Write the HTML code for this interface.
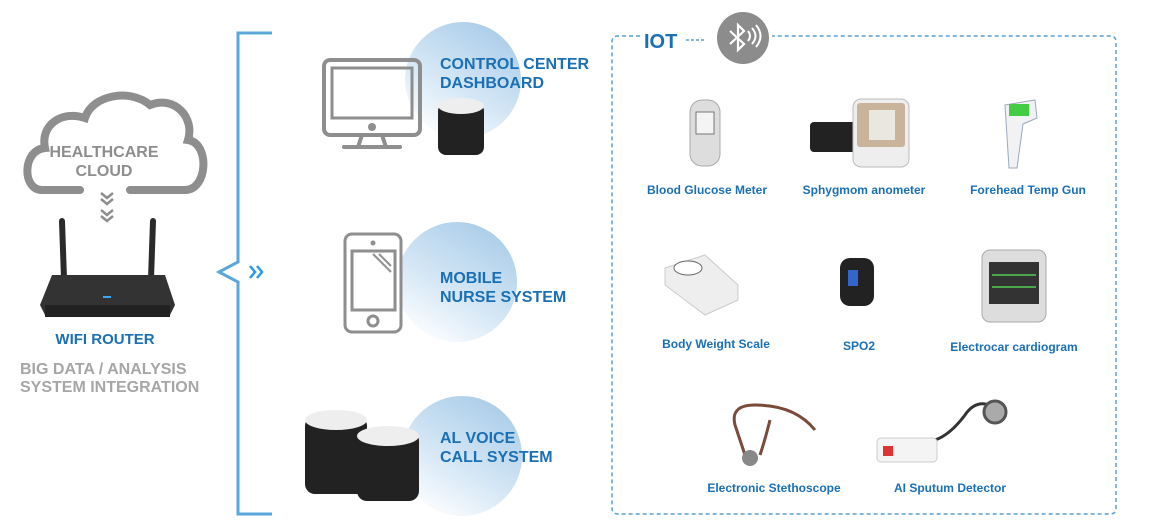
<!DOCTYPE html>
<html><head><meta charset="utf-8"><style>
html,body{margin:0;padding:0;background:#fff;width:1150px;height:529px;overflow:hidden}
svg text{font-family:"Liberation Sans",Arial,sans-serif;font-weight:bold}
</style></head><body>
<svg width="1150" height="529" viewBox="0 0 1150 529" xmlns="http://www.w3.org/2000/svg">
<defs>
<linearGradient id="g" x1="0.8" y1="0" x2="0.2" y2="1">
<stop offset="0" stop-color="#a8cbe8"/><stop offset="0.55" stop-color="#d3e6f5"/><stop offset="1" stop-color="#ffffff"/>
</linearGradient>
</defs>
<!-- cloud -->
<path d="M80,190 L42,190 C22,190 22,150 45,148 C40,125 62,110 85,118 C92,95 130,88 150,105 C175,95 195,118 188,140 C210,143 208,190 185,190 L130,190" fill="none" stroke="#8e8e8e" stroke-width="8" stroke-linecap="round"/>
<text x="104" y="157" font-size="16" fill="#8e8e8e" text-anchor="middle">HEALTHCARE</text>
<text x="104" y="176" font-size="16" fill="#8e8e8e" text-anchor="middle">CLOUD</text>
<path d="M101,193 l6,5 l6,-5 M101,199 l6,5 l6,-5 M101,210 l6,5 l6,-5 M101,216 l6,5 l6,-5" stroke="#8e8e8e" stroke-width="2.5" fill="none"/>
<!-- router -->
<rect x="60" y="218" width="6" height="68" rx="3" fill="#2a2a2a" transform="rotate(-2 63 250)"/>
<rect x="149" y="218" width="6" height="68" rx="3" fill="#2a2a2a" transform="rotate(2 152 250)"/>
<path d="M52,275 L165,275 L175,305 L170,315 L45,315 L40,305 Z" fill="#333"/>
<rect x="45" y="305" width="125" height="12" fill="#222"/>
<rect x="103" y="296" width="8" height="2" fill="#3af"/>
<text x="105" y="344" font-size="15" fill="#1a6fb5" text-anchor="middle">WIFI ROUTER</text>
<text x="20" y="374" font-size="16" fill="#a6a6a6">BIG DATA / ANALYSIS</text>
<text x="20" y="392" font-size="16" fill="#a6a6a6">SYSTEM INTEGRATION</text>
<!-- bracket -->
<path d="M272,33 L238,33 L238,262 L219,272 L238,282 L238,514 L272,514" fill="none" stroke="#5aa7dc" stroke-width="3"/>
<path d="M250,266 l5,6 l-5,6 M257,266 l5,6 l-5,6" stroke="#2a9ae0" stroke-width="2.5" fill="none"/>
<!-- circles -->
<circle cx="463" cy="80" r="58" fill="url(#g)"/>
<circle cx="457" cy="282" r="60" fill="url(#g)"/>
<circle cx="462" cy="456" r="60" fill="url(#g)"/>
<!-- monitor -->
<rect x="324" y="60" width="96" height="75" rx="6" fill="none" stroke="#8e8e8e" stroke-width="4"/>
<rect x="332" y="68" width="80" height="50" fill="none" stroke="#8e8e8e" stroke-width="3"/>
<circle cx="372" cy="127" r="4" fill="#8e8e8e"/>
<path d="M362,135 L358,147 M382,135 L386,147" stroke="#8e8e8e" stroke-width="4"/>
<rect x="342" y="145" width="60" height="4" rx="2" fill="#8e8e8e"/>
<!-- speaker small -->
<rect x="438" y="103" width="46" height="52" rx="8" fill="#222"/>
<ellipse cx="461" cy="106" rx="23" ry="8" fill="#eee"/>
<text x="440" y="69" font-size="16" fill="#1a6fb5">CONTROL CENTER</text>
<text x="440" y="88" font-size="16" fill="#1a6fb5">DASHBOARD</text>
<!-- phone -->
<rect x="345" y="234" width="56" height="98" rx="7" fill="#fff" stroke="#8e8e8e" stroke-width="3"/>
<rect x="352" y="251" width="43" height="59" fill="none" stroke="#8e8e8e" stroke-width="3"/>
<circle cx="373" cy="243" r="2.5" fill="#8e8e8e"/>
<circle cx="373" cy="321" r="5" fill="none" stroke="#8e8e8e" stroke-width="3"/>
<path d="M373,254 l18,18 M379,254 l12,12" stroke="#8e8e8e" stroke-width="2"/>
<text x="440" y="283" font-size="16" fill="#1a6fb5">MOBILE</text>
<text x="440" y="302" font-size="16" fill="#1a6fb5">NURSE SYSTEM</text>
<!-- speakers -->
<rect x="305" y="416" width="62" height="78" rx="10" fill="#222"/>
<ellipse cx="336" cy="420" rx="31" ry="10" fill="#eee"/>
<rect x="357" y="431" width="62" height="70" rx="10" fill="#222"/>
<ellipse cx="388" cy="436" rx="31" ry="10" fill="#eee"/>
<text x="440" y="443" font-size="16" fill="#1a6fb5">AL VOICE</text>
<text x="440" y="462" font-size="16" fill="#1a6fb5">CALL SYSTEM</text>
<!-- IOT box -->
<path d="M640,36 L618,36 Q612,36 612,42 L612,508 Q612,514 618,514 L1110,514 Q1116,514 1116,508 L1116,42 Q1116,36 1110,36 L772,36" fill="none" stroke="#5aa0d0" stroke-width="1.5" stroke-dasharray="4,3"/>
<path d="M686,40 L705,40" stroke="#5aa0d0" stroke-width="1.5" stroke-dasharray="3,2"/>
<text x="644" y="48" font-size="20" fill="#1a6fb5">IOT</text>
<circle cx="743" cy="38" r="26" fill="#8c8c8c"/>
<path d="M730,31 l14,13 l-6,6 l0,-25 l6,6 l-14,13" stroke="#fff" stroke-width="2.2" fill="none"/>
<path d="M748,31 q4,5 0,10 M752,28 q7,8 0,16 M756,25 q9,11 0,22" stroke="#fff" stroke-width="2" fill="none"/>
<!-- devices row1 -->
<rect x="690" y="100" width="30" height="66" rx="12" fill="#ddd" stroke="#aaa"/>
<rect x="696" y="112" width="18" height="22" fill="#f4f4f4" stroke="#777"/>
<rect x="810" y="122" width="50" height="30" rx="4" fill="#222"/>
<rect x="853" y="99" width="56" height="68" rx="8" fill="#eee" stroke="#bbb"/>
<rect x="857" y="103" width="48" height="44" rx="3" fill="#c9b39a"/>
<rect x="869" y="110" width="26" height="30" fill="#e8e8e0"/>
<path d="M1005,105 l30,-5 l2,18 l-14,6 l-6,44 l-8,0 z" fill="#f2f2f4" stroke="#9ab"/>
<rect x="1009" y="104" width="20" height="12" fill="#4c4"/>
<text x="707" y="194" font-size="12" fill="#1a6fb5" text-anchor="middle">Blood Glucose Meter</text>
<text x="864" y="194" font-size="12" fill="#1a6fb5" text-anchor="middle">Sphygmom anometer</text>
<text x="1028" y="194" font-size="12" fill="#1a6fb5" text-anchor="middle">Forehead Temp Gun</text>
<!-- row2 -->
<path d="M665,268 L705,255 L738,285 L738,300 L705,315 L665,285 Z" fill="#eee" stroke="#ccc"/>
<ellipse cx="688" cy="268" rx="14" ry="7" fill="#fff" stroke="#666"/>
<rect x="840" y="258" width="34" height="48" rx="10" fill="#222"/>
<rect x="848" y="270" width="10" height="16" fill="#36c"/>
<rect x="982" y="250" width="64" height="72" rx="8" fill="#ddd" stroke="#aaa"/>
<rect x="989" y="262" width="50" height="42" fill="#333"/>
<path d="M992,275 h44 M992,287 h44" stroke="#5c5" stroke-width="1.5"/>
<text x="716" y="348" font-size="12" fill="#1a6fb5" text-anchor="middle">Body Weight Scale</text>
<text x="859" y="350" font-size="12" fill="#1a6fb5" text-anchor="middle">SPO2</text>
<text x="1014" y="351" font-size="12" fill="#1a6fb5" text-anchor="middle">Electrocar cardiogram</text>
<!-- row3 -->
<path d="M755,405 q-25,0 -20,20 l10,30 M755,405 q40,0 60,25 M770,420 q-5,20 -10,35" stroke="#7a4a3a" stroke-width="3" fill="none"/>
<circle cx="750" cy="458" r="8" fill="#888"/>
<path d="M935,440 q15,-5 30,-25 q10,-15 25,-10" stroke="#333" stroke-width="3" fill="none"/>
<circle cx="995" cy="412" r="11" fill="#aaa" stroke="#555" stroke-width="3"/>
<rect x="877" y="438" width="60" height="24" rx="4" fill="#f4f4f4" stroke="#ccc"/>
<rect x="883" y="446" width="10" height="10" fill="#d33"/>
<text x="774" y="492" font-size="12" fill="#1a6fb5" text-anchor="middle">Electronic Stethoscope</text>
<text x="950" y="492" font-size="12" fill="#1a6fb5" text-anchor="middle">AI Sputum Detector</text>
</svg>
</body></html>
